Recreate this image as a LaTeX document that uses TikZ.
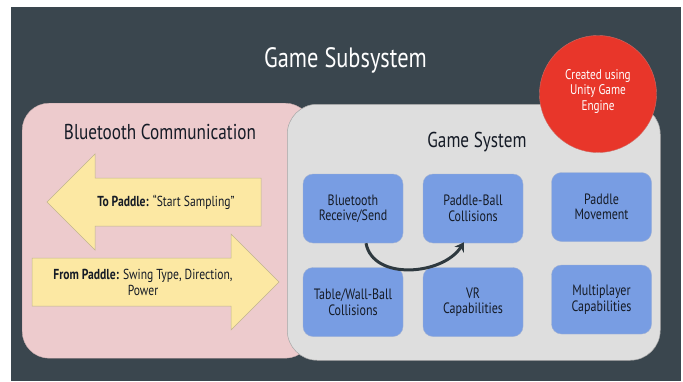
\documentclass[tikz,border=0pt]{standalone}
\usepackage{fontspec}
\setmainfont{PT Sans}[FakeStretch=0.8]
\usetikzlibrary{arrows.meta,calc}
\definecolor{bgdark}{HTML}{3A464E}
\definecolor{pinkbox}{HTML}{EDCBCD}
\definecolor{greybox}{HTML}{DEDEDE}
\definecolor{bluebox}{HTML}{789DE3}
\definecolor{yellowarr}{HTML}{FCE8A3}
\definecolor{redcirc}{HTML}{E8362A}
\definecolor{txtdark}{HTML}{151B26}
\definecolor{arrdark}{HTML}{2E393F}
\tikzset{
  comp/.style={draw=bluebox!80!black!60, line width=0.4pt, fill=bluebox, rounded corners=10pt,
    minimum width=100pt, minimum height=69pt, align=center, text=txtdark,
    font=\fontsize{15}{15.5}\selectfont},
  yarrow/.style={fill=yellowarr, draw=yellowarr!70!black!80, line width=0.5pt},
  titletxt/.style={text=txtdark, font=\fontsize{21.5}{23}\selectfont},
}
\begin{document}
\begin{tikzpicture}[x=1pt,y=-1pt]
\useasboundingbox (0,0) rectangle (683,381);
\fill[white] (0,0) rectangle (683,381);
\fill[bgdark] (11,7) rectangle (681,381);
% title
\node[text=white, font=\fontsize{28}{30}\selectfont] (title) at (345.5,60) {Game Subsystem};
% pink box
\node[draw=pinkbox!85!black, line width=0.4pt, fill=pinkbox, rounded corners=27pt,
  minimum width=290pt, minimum height=255pt, anchor=north west] (bt) at (22,103) {};
\node[titletxt] (bttitle) at (160,132) {Bluetooth Communication};
% yellow arrows
\draw[yarrow] (47,202) -- (95,154) -- (95,178) -- (261,178) -- (261,226) -- (95,226) -- (95,250) -- cycle;
\node[text=txtdark, font=\fontsize{14.5}{15}\selectfont] (topaddle) at (166,202) {\textbf{To Paddle:} “Start Sampling”};
\draw[yarrow] (32,258) -- (231,258) -- (231,234) -- (279,282) -- (231,330) -- (231,306) -- (32,306) -- cycle;
\node[text=txtdark, align=center, font=\fontsize{14.5}{16}\selectfont] (frompaddle) at (143,282) {\textbf{From Paddle:} Swing Type, Direction,\\Power};
% grey box
\node[draw=greybox!75!black, line width=0.5pt, fill=greybox, rounded corners=30pt,
  minimum width=373pt, minimum height=256pt, anchor=north west] (gs) at (287,104) {};
\node[titletxt] (gstitle) at (477,142) {Game System};
% components
\node[comp] (b1) at (353,208.5) {Bluetooth\\Receive/Send};
\node[comp] (b2) at (473,208.5) {Paddle-Ball\\Collisions};
\node[comp] (b3) at (601.5,207) {Paddle\\Movement};
\node[comp] (b4) at (353,302) {Table/Wall-Ball\\Collisions};
\node[comp] (b5) at (473,302) {VR\\Capabilities};
\node[comp] (b6) at (601.5,299.5) {Multiplayer\\Capabilities};
% curved arrow
\draw[arrdark, line width=3pt, -{Stealth[length=9pt,width=11pt]}]
  ($(b1.south)+(13,0)$) .. controls ($(b1.south)+(20,38)$) and ($(b2.south)+(-30,32)$) .. ($(b2.south)+(-9,-1)$);
% red circle
\node[circle, fill=redcirc, draw=redcirc!80!black!70, line width=0.4pt, minimum size=117pt, inner sep=0pt] (unity) at (598,94) {};
\node[text=white, align=center, font=\fontsize{14}{15.5}\selectfont] (unitytxt) at (598,91) {Created using\\Unity Game\\Engine};
\end{tikzpicture}
\end{document}
